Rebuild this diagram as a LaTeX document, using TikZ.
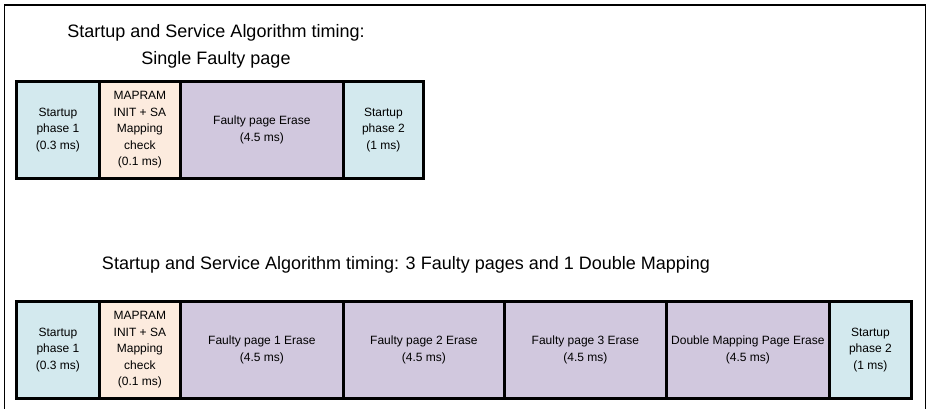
\documentclass[tikz,border=0pt]{standalone}
\usepackage{fontspec}
\setmainfont{Liberation Sans}
\definecolor{startc}{HTML}{D3E9EE}
\definecolor{mapc}{HTML}{FCEBDE}
\definecolor{erasec}{HTML}{D1C8DE}
\begin{document}
\begin{tikzpicture}[x=1pt,y=-1pt,
  box/.style={draw=black, line width=2.8pt, inner sep=0pt, align=center,
    font=\fontsize{12}{16.6}\selectfont, anchor=north west, minimum height=97pt},
  startbox/.style={box, fill=startc},
  mapbox/.style={box, fill=mapc},
  erasebox/.style={box, fill=erasec},
  title/.style={align=center, inner sep=0pt, font=\fontsize{18}{27}\selectfont}]
\useasboundingbox (0,0) rectangle (927,408);
\draw[line width=1.4pt] (4.5,420) -- (4.5,5) -- (925.5,5) -- (925.5,420);

\node[title] (t1) at (216,46) {Startup and Service Algorithm timing:\\Single Faulty page};

\node[startbox, minimum width=83pt] (a1) at (15,80) {Startup\\phase 1\\(0.3 ms)};
\node[mapbox, minimum width=81pt] (a2) at (98,80) {MAPRAM\\INIT + SA\\Mapping\\check\\(0.1 ms)};
\node[erasebox, minimum width=163pt] (a3) at (179,80) {Faulty page Erase\\(4.5 ms)};
\node[startbox, minimum width=80pt] (a4) at (342,80) {Startup\\phase 2\\(1 ms)};

\node[title] (t2) at (406,265) {Startup and Service Algorithm timing: 3 Faulty pages and 1 Double Mapping};

\node[startbox, minimum width=83pt] (b1) at (15,300) {Startup\\phase 1\\(0.3 ms)};
\node[mapbox, minimum width=81pt] (b2) at (98,300) {MAPRAM\\INIT + SA\\Mapping\\check\\(0.1 ms)};
\node[erasebox, minimum width=163pt] (b3) at (179,300) {Faulty page 1 Erase\\(4.5 ms)};
\node[erasebox, minimum width=161pt] (b4) at (342,300) {Faulty page 2 Erase\\(4.5 ms)};
\node[erasebox, minimum width=162pt] (b5) at (503,300) {Faulty page 3 Erase\\(4.5 ms)};
\node[erasebox, minimum width=163pt] (b6) at (665,300) {Double Mapping Page Erase\\(4.5 ms)};
\node[startbox, minimum width=82pt] (b7) at (828,300) {Startup\\phase 2\\(1 ms)};
\end{tikzpicture}
\end{document}
